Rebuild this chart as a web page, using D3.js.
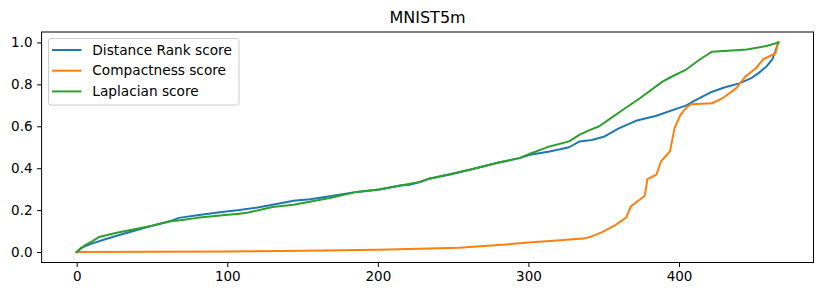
<!DOCTYPE html>
<html lang="en">
<head>
<meta charset="utf-8">
<title>MNIST5m</title>
<script src="https://d3js.org/d3.v7.min.js"></script>
<style>
  body { margin: 0; background: #fff; }
  svg { display: block; font-family: "DejaVu Sans", sans-serif; }
</style>
</head>
<body>
<div id="chart"></div>
<script>
// rank / score pairs
var distanceRank = [[0,0],[3,0.02],[10,0.04],[20,0.063],[30,0.085],[40,0.105],[50,0.125],[62,0.147],[68,0.163],[80,0.175],[95,0.19],[108,0.2],[120,0.212],[130,0.226],[144,0.245],[155,0.252],[168,0.266],[186,0.287],[201,0.298],[215,0.317],[221,0.321],[228,0.334],[234,0.35],[248,0.37],[261,0.393],[281,0.428],[294,0.448],[301,0.464],[314,0.48],[321,0.49],[327,0.5],[334,0.528],[342,0.535],[350,0.55],[360,0.59],[368,0.615],[372,0.628],[385,0.65],[400,0.688],[405,0.7],[411,0.725],[422,0.765],[430,0.785],[440,0.805],[448,0.83],[453,0.855],[458,0.885],[462,0.92],[466,1.0]];
var compactness = [[0,0],[50,0.001],[100,0.003],[150,0.006],[200,0.011],[254,0.02],[280,0.033],[300,0.045],[321,0.056],[336,0.064],[341,0.072],[349,0.095],[358,0.13],[362,0.15],[365,0.165],[368,0.218],[372,0.24],[377,0.266],[378,0.3],[379,0.348],[385,0.369],[388,0.432],[394,0.48],[397,0.591],[401,0.655],[405,0.69],[408,0.705],[422,0.71],[429,0.734],[438,0.782],[444,0.837],[451,0.877],[456,0.92],[464,0.948],[466,1.0]];
var laplacian = [[0,0],[5,0.03],[10,0.05],[15,0.072],[25,0.09],[35,0.104],[50,0.125],[62,0.147],[69,0.152],[80,0.163],[95,0.174],[108,0.183],[113,0.187],[130,0.215],[144,0.226],[168,0.258],[186,0.287],[201,0.298],[215,0.317],[228,0.334],[234,0.35],[261,0.393],[281,0.428],[294,0.448],[301,0.469],[314,0.504],[327,0.528],[334,0.56],[341,0.583],[347,0.6],[355,0.64],[363,0.68],[374,0.734],[389,0.813],[396,0.84],[405,0.872],[414,0.92],[422,0.956],[435,0.962],[445,0.967],[458,0.983],[466,1.0]];

var seriesNames = ["Distance Rank score", "Compactness score", "Laplacian score"];
var seriesColors = ["#1f77b4", "#ff7f0e", "#2ca02c"];
var xTicks = [0, 100, 200, 300, 400];
var yTicks = [0, 0.2, 0.4, 0.6, 0.8, 1.0];

var width = 826, height = 293;
var axLeft = 41.6, axRight = 813.5, axTop = 32, axBottom = 262.5;

var svg = d3.select("#chart").append("svg")
    .attr("width", width)
    .attr("height", height);

var x = d3.scaleLinear().domain([-23.3, 489.3]).range([axLeft, axRight]);
var y = d3.scaleLinear().domain([-0.05, 1.05]).range([axBottom, axTop]);

svg.append("clipPath").attr("id", "clip")
  .append("rect").attr("x", axLeft).attr("y", axTop)
  .attr("width", axRight - axLeft).attr("height", axBottom - axTop);

var line = d3.line()
    .x(function(d) { return x(d[0]); })
    .y(function(d) { return y(d[1]); });

var plot = svg.append("g").attr("clip-path", "url(#clip)");
[distanceRank, compactness, laplacian].forEach(function(s, i) {
  plot.append("path")
    .datum(s)
    .attr("d", line)
    .attr("fill", "none")
    .attr("stroke", seriesColors[i])
    .attr("stroke-width", 2)
    .attr("stroke-linejoin", "round")
    .attr("stroke-linecap", "square");
});

// axes
var xAxis = svg.append("g")
    .attr("transform", "translate(0," + axBottom + ")")
    .call(d3.axisBottom(x).tickValues(xTicks).tickSize(4.5).tickPadding(4.5).tickFormat(d3.format("d")));
var yAxis = svg.append("g")
    .attr("transform", "translate(" + axLeft + ",0)")
    .call(d3.axisLeft(y).tickValues(yTicks).tickSize(4.5).tickPadding(4.5).tickFormat(d3.format(".1f")));
[xAxis, yAxis].forEach(function(a) {
  a.select(".domain").remove();
  a.selectAll("line").attr("stroke", "#000").attr("stroke-width", 1);
  a.selectAll("text").attr("fill", "#000").style("font-size", "13.5px")
    .style("font-family", "DejaVu Sans, sans-serif");
});

svg.append("rect")
    .attr("x", axLeft).attr("y", axTop)
    .attr("width", axRight - axLeft).attr("height", axBottom - axTop)
    .attr("fill", "none").attr("stroke", "#000").attr("stroke-width", 1);

svg.append("text")
    .attr("x", (axLeft + axRight) / 2).attr("y", 23)
    .attr("text-anchor", "middle")
    .style("font-size", "16px")
    .text("MNIST5m");

// legend
var legend = svg.append("g");
legend.append("rect")
    .attr("x", 48.5).attr("y", 38.5)
    .attr("width", 190.5).attr("height", 66.5)
    .attr("rx", 2.5)
    .attr("fill", "#fff").attr("fill-opacity", 0.8)
    .attr("stroke", "#ccc").attr("stroke-width", 1);
seriesNames.forEach(function(name, i) {
  var ly = 50 + i * 20.7;
  legend.append("line")
    .attr("x1", 52).attr("x2", 81.5)
    .attr("y1", ly).attr("y2", ly)
    .attr("stroke", seriesColors[i]).attr("stroke-width", 2);
  legend.append("text")
    .attr("x", 92.3).attr("y", ly)
    .attr("dy", "0.35em")
    .style("font-size", "13.7px")
    .text(name);
});
</script>
</body>
</html>
